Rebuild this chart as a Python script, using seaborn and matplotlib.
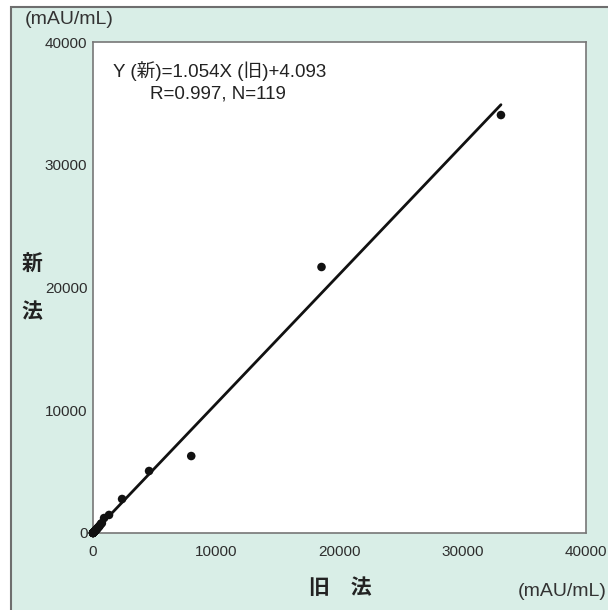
import numpy as np
import pandas as pd
import seaborn as sns
import matplotlib.pyplot as plt
from matplotlib.patches import Rectangle

# data (old method vs new method, mAU/mL)
old_vals = [33100, 18540, 7970, 4550, 2360, 1300, 900, 720, 650, 560, 500,
            450, 400, 360, 320, 290, 260, 240, 210, 190, 170, 150, 135, 120,
            105, 95, 85, 75, 65, 58, 50, 44, 38, 32, 27, 22, 18, 14, 10, 7,
            5, 3, 2, 1]
new_vals = [34050, 21670, 6270, 5050, 2770, 1470, 1220, 800, 760, 610, 540,
            480, 430, 390, 330, 300, 280, 250, 230, 200, 180, 160, 140, 130,
            110, 100, 90, 80, 70, 60, 52, 46, 40, 34, 29, 24, 19, 15, 11, 8,
            6, 4, 2, 1]
slope = 1.054
intercept = 4.093
line_x = [0, 33100]
ticks = [0, 10000, 20000, 30000, 40000]

df = pd.DataFrame({'old': old_vals, 'new': new_vals})
fit = pd.DataFrame({'x': line_x})
fit['y'] = slope * fit['x'] + intercept

sns.set_style('white')
plt.rcParams['font.family'] = ['Liberation Sans', 'Noto Sans CJK JP', 'DejaVu Sans']

fig = plt.figure(figsize=(6.08, 6.10), dpi=100)
fig.patches.append(Rectangle((11 / 608, -0.01), 1.0, 1 - 7 / 610 + 0.01,
                             transform=fig.transFigure, facecolor='#d9eee7',
                             edgecolor='#6e6e6e', linewidth=1.5, zorder=-5))
ax = fig.add_axes([93 / 608, 1 - 533 / 610, (586 - 93) / 608, (533 - 42) / 610])
ax.set_zorder(2)
ax.set_facecolor('white')

sns.lineplot(data=fit, x='x', y='y', ax=ax, color='#111111', linewidth=2)
sns.scatterplot(data=df, x='old', y='new', ax=ax, color='#111111', s=38,
                edgecolor='none', clip_on=False, zorder=5)

ax.set_xlim(0, 40000)
ax.set_ylim(0, 40000)
ax.set_xticks(ticks)
ax.set_yticks(ticks)
ax.set_xticklabels([str(t) for t in ticks])
ax.set_yticklabels([str(t) for t in ticks])
ax.tick_params(direction='in', length=5, width=1, color='#777777',
               labelsize=11, labelcolor='#2e2e2e', pad=4)
ax.tick_params(axis='x', pad=9)
for s in ax.spines.values():
    s.set_color('#777777')
    s.set_linewidth(1.2)
ax.set_xlabel('')
ax.set_ylabel('')

fig.text(113 / 608, 1 - 71 / 610, 'Y (新)=1.054X (旧)+4.093',
         fontsize=13.5, color='#222222', va='center', zorder=3)
fig.text(150 / 608, 1 - 94 / 610, 'R=0.997, N=119',
         fontsize=13.5, color='#222222', va='center', zorder=3)

fig.text(25 / 608, 1 - 20 / 610, '(mAU/mL)', fontsize=14, color='#333333',
         va='center', zorder=3)
fig.text(607 / 608, 1 - 592 / 610, '(mAU/mL)', fontsize=14, color='#333333',
         va='center', ha='right', zorder=3)
fig.text(32 / 608, 1 - 265 / 610, '新', fontsize=15, fontweight='bold',
         color='#222222', va='center', ha='center', zorder=3)
fig.text(32 / 608, 1 - 312 / 610, '法', fontsize=15, fontweight='bold',
         color='#222222', va='center', ha='center', zorder=3)
fig.text(340 / 608, 1 - 588 / 610, '旧　法', fontsize=15, fontweight='bold',
         color='#222222', va='center', ha='center', zorder=3)

fig.savefig('out.png', dpi=100)
